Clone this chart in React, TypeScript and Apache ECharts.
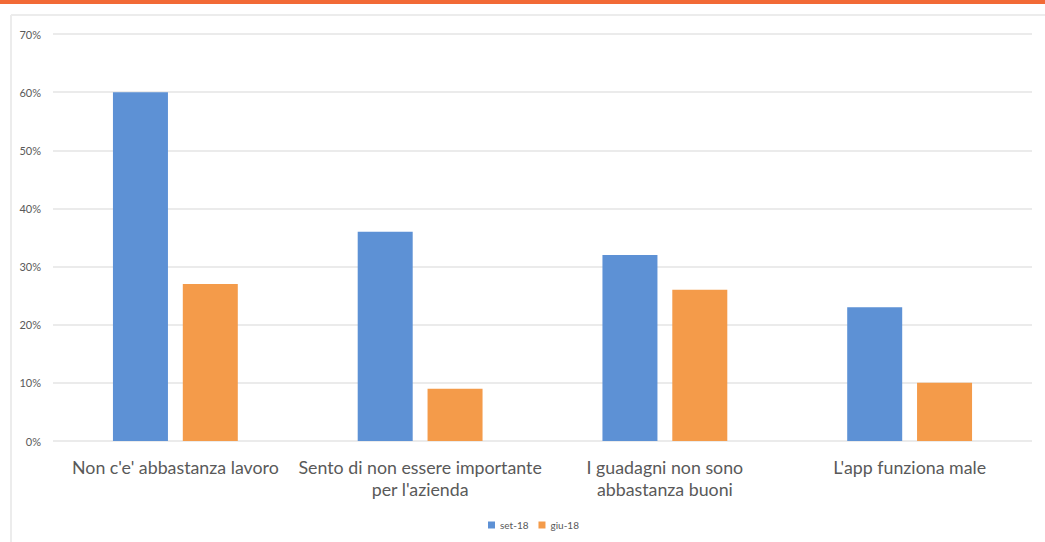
import React, { useEffect, useRef } from "react";
import * as echarts from "echarts";

const categories = [
  "Non c'e' abbastanza lavoro",
  "Sento di non essere importante\nper l'azienda",
  "I guadagni non sono\nabbastanza buoni",
  "L'app funziona male",
];
const seriesNames = ["set-18", "giu-18"];
const set18 = [60, 36, 32, 23];
const giu18 = [27, 9, 26, 10];
const colors = ["#5D91D5", "#F49B4A"];

export default function App() {
  const ref = useRef<HTMLDivElement>(null);
  useEffect(() => {
    const chart = echarts.init(ref.current!, null, { renderer: "svg" });
    chart.setOption({
      animation: false,
      backgroundColor: "#ffffff",
      graphic: [
        { type: "rect", shape: { x: 0, y: 0, width: 1045, height: 4 }, style: { fill: "#F26A36" } },
        { type: "line", shape: { x1: 11, y1: 15, x2: 1045, y2: 15 }, style: { stroke: "#ececec", lineWidth: 2 } },
        { type: "line", shape: { x1: 11, y1: 15, x2: 11, y2: 542 }, style: { stroke: "#ececec", lineWidth: 2 } },
      ],
      grid: { left: 53, right: 13, top: 34, bottom: 101 },
      legend: {
        data: seriesNames,
        top: 515,
        left: 483,
        itemWidth: 7,
        itemHeight: 7,
        itemGap: 10,
        icon: "rect",
        textStyle: { fontSize: 10, color: "#595959", fontFamily: "Lato" },
      },
      xAxis: {
        type: "category",
        data: categories,
        axisLine: { show: false },
        axisTick: { show: false },
        axisLabel: {
          fontSize: 17.8,
          lineHeight: 22,
          margin: 15,
          color: "#595959",
          fontFamily: "Lato",
          interval: 0,
        },
      },
      yAxis: {
        type: "value",
        min: 0,
        max: 70,
        interval: 10,
        axisLabel: {
          formatter: "{value}%",
          fontSize: 11,
          color: "#595959",
          fontFamily: "Lato",
          margin: 12,
        },
        splitLine: { lineStyle: { color: "#e4e4e4", width: 1.5 } },
      },
      series: [
        { name: seriesNames[0], type: "bar", data: set18, barWidth: 55, barGap: "27%", itemStyle: { color: colors[0] } },
        { name: seriesNames[1], type: "bar", data: giu18, barWidth: 55, barGap: "27%", itemStyle: { color: colors[1] } },
      ],
    });
    return () => chart.dispose();
  }, []);
  return <div ref={ref} style={{ position: "fixed", left: 0, top: 0, width: 1045, height: 542 }} />;
}
